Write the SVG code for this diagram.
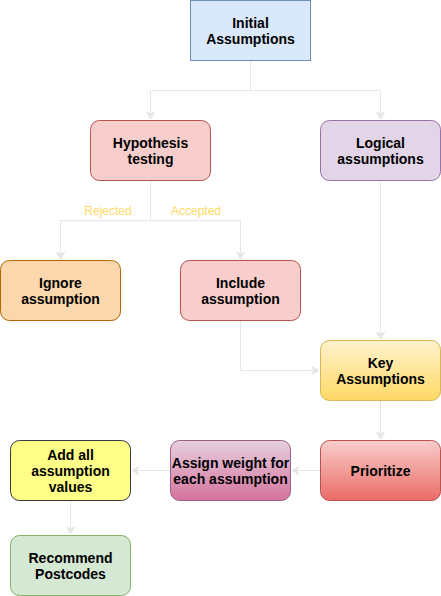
<svg xmlns="http://www.w3.org/2000/svg" width="441" height="596" viewBox="0 0 441 596">
<defs>
<linearGradient id="gKey" x1="0" y1="0" x2="0" y2="1"><stop offset="0" stop-color="#fff2cc"/><stop offset="1" stop-color="#ffd966"/></linearGradient>
<linearGradient id="gPri" x1="0" y1="0" x2="0" y2="1"><stop offset="0" stop-color="#f8cecc"/><stop offset="1" stop-color="#ea6b66"/></linearGradient>
<linearGradient id="gAsg" x1="0" y1="0" x2="0" y2="1"><stop offset="0" stop-color="#e6d0de"/><stop offset="1" stop-color="#d5739d"/></linearGradient>
<marker id="arr" markerWidth="10" markerHeight="10" refX="8" refY="5" orient="auto" markerUnits="userSpaceOnUse">
<path d="M1,1 L8,5 L1,9 L3,5 Z" fill="#e6e6e6" stroke="#e6e6e6" stroke-width="1"/>
</marker>
<style>
.e{fill:none;stroke:#e6e6e6;stroke-width:1;marker-end:url(#arr)}
.t{font-family:"Liberation Sans",Arial,sans-serif;font-size:14px;font-weight:bold;fill:#000;text-anchor:middle}
.l{font-family:"Liberation Sans",Arial,sans-serif;font-size:12px;fill:#ffd966;text-anchor:middle}
</style>
</defs>
<rect width="441" height="596" fill="#ffffff"/>
<g id="connectors">
<path class="e" d="M250.5,60.5 V90.5 H150.5 V119"/>
<path class="e" d="M250.5,90.5 H380.5 V119"/>
<path class="e" d="M150.5,180.5 V220.5 H60.5 V259"/>
<path class="e" d="M150.5,220.5 H240.5 V259"/>
<path class="e" d="M380.5,180.5 V339"/>
<path class="e" d="M240.5,320.5 V370.5 H319"/>
<path class="e" d="M380.5,400.5 V439"/>
<path class="e" d="M320.5,470.5 H292"/>
<path class="e" d="M170.5,470.5 H132"/>
<path class="e" d="M70.5,500.5 V534"/>
<text class="l" x="108" y="215">Rejected</text>
<text class="l" x="196" y="215">Accepted</text>
</g>
<g id="initial">
<rect x="190.5" y="0.5" width="120" height="60" fill="#dae8fc" stroke="#6c8ebf"/>
<text class="t" x="250.5" y="28">Initial</text>
<text class="t" x="250.5" y="44">Assumptions</text>
</g>
<g id="hypothesis">
<rect x="90.5" y="120.5" width="120" height="60" rx="9" fill="#f8cecc" stroke="#b85450"/>
<text class="t" x="150.5" y="148">Hypothesis</text>
<text class="t" x="150.5" y="164">testing</text>
</g>
<g id="logical">
<rect x="320.5" y="120.5" width="120" height="60" rx="9" fill="#e1d5e7" stroke="#9673a6"/>
<text class="t" x="380.5" y="148">Logical</text>
<text class="t" x="380.5" y="164">assumptions</text>
</g>
<g id="ignore">
<rect x="0.5" y="260.5" width="120" height="60" rx="9" fill="#fad7ac" stroke="#b46504"/>
<text class="t" x="60.5" y="288">Ignore</text>
<text class="t" x="60.5" y="304">assumption</text>
</g>
<g id="include">
<rect x="180.5" y="260.5" width="120" height="60" rx="9" fill="#f8cecc" stroke="#b85450"/>
<text class="t" x="240.5" y="288">Include</text>
<text class="t" x="240.5" y="304">assumption</text>
</g>
<g id="key">
<rect x="320.5" y="340.5" width="120" height="60" rx="9" fill="url(#gKey)" stroke="#d6b656"/>
<text class="t" x="380.5" y="368">Key</text>
<text class="t" x="380.5" y="384">Assumptions</text>
</g>
<g id="prioritize">
<rect x="320.5" y="440.5" width="120" height="60" rx="9" fill="url(#gPri)" stroke="#b85450"/>
<text class="t" x="380.5" y="475.5">Prioritize</text>
</g>
<g id="assign">
<rect x="170.5" y="440.5" width="120" height="60" rx="9" fill="url(#gAsg)" stroke="#996185"/>
<text class="t" x="230.5" y="468">Assign weight for</text>
<text class="t" x="230.5" y="484">each assumption</text>
</g>
<g id="addall">
<rect x="10.5" y="440.5" width="120" height="60" rx="9" fill="#ffff88" stroke="#36393d"/>
<text class="t" x="70.5" y="460">Add all</text>
<text class="t" x="70.5" y="476">assumption</text>
<text class="t" x="70.5" y="492">values</text>
</g>
<g id="recommend">
<rect x="10.5" y="535.5" width="120" height="60" rx="9" fill="#d5e8d4" stroke="#82b366"/>
<text class="t" x="70.5" y="563">Recommend</text>
<text class="t" x="70.5" y="579">Postcodes</text>
</g>
</svg>
